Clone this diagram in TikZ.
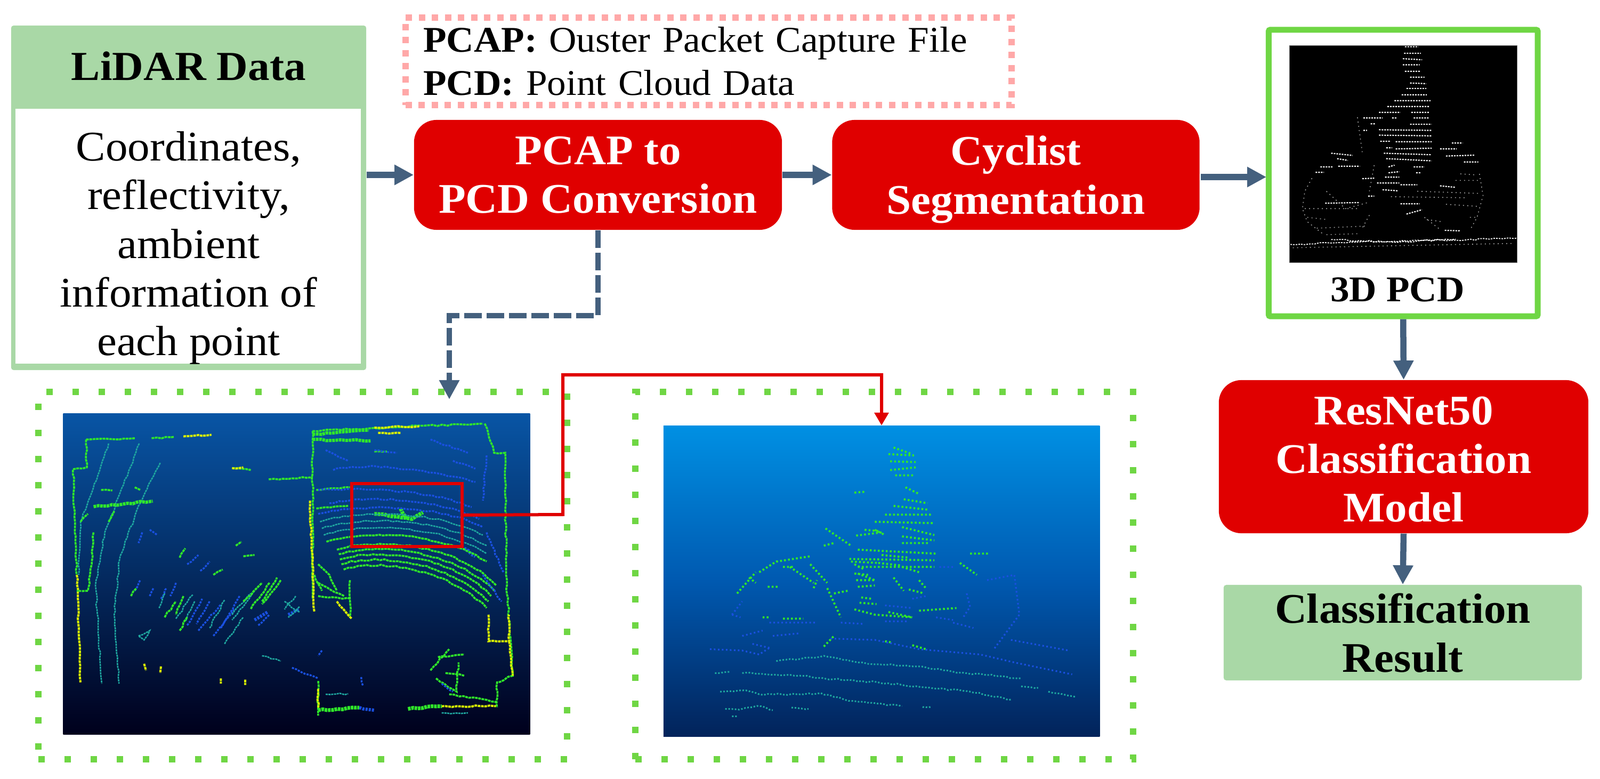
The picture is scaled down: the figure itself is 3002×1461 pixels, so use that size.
\documentclass[tikz,border=0pt]{standalone}
\usepackage{fontspec}
\setmainfont[FakeStretch=1.05]{Liberation Serif}
\usetikzlibrary{arrows.meta,decorations.pathmorphing}
\begin{document}
\begin{tikzpicture}[
  x=0.01cm, y=-0.01cm,
  mainfont/.style={font=\fontsize{22.5}{26}\selectfont},
  redbox/.style={
    fill=Cred, rounded corners=0.42cm, text=white, mainfont, align=center,
    inner sep=0pt, text depth=0pt
  },
  greenbox/.style={fill=Cgreen, rounded corners=0.05cm, inner sep=0pt},
  dotframe/.style={
    draw=Cdot, line width=0.12cm, dash pattern=on 0.12cm off 0.37cm, inner sep=0pt
  },
  flow/.style={
    draw=Cflow, line width=0.115cm, -{Triangle[length=3.6mm,width=3.6mm]}
  },
  noisy/.style={decorate, decoration={random steps, segment length=0.09cm, amplitude=0.016cm}},
  ptG/.style={noisy, draw=CptG, line width=0.036cm, dash pattern=on 0.05cm off 0.012cm},
  ptY/.style={noisy, draw=CptY, line width=0.04cm, dash pattern=on 0.05cm off 0.012cm},
  ptB/.style={noisy, draw=CptB, line width=0.034cm, dash pattern=on 0.04cm off 0.02cm},
  ptT/.style={noisy, draw=CptT, line width=0.026cm, dash pattern=on 0.04cm off 0.012cm},
  dotG/.style={draw=CptG, line width=0.038cm, dash pattern=on 0.035cm off 0.04cm},
  dotB/.style={draw=CptB, line width=0.032cm, dash pattern=on 0.03cm off 0.045cm},
  dotT/.style={noisy, draw=CptT, line width=0.03cm, dash pattern=on 0.03cm off 0.03cm},
  dotW/.style={draw=white, line width=0.022cm, dash pattern=on 0.03cm off 0.02cm},
  dotK/.style={draw=black!40, line width=0.016cm, dash pattern=on 0.02cm off 0.06cm}
]
\definecolor{Cred}{HTML}{E00000}
\definecolor{Cgreen}{HTML}{A9D8A6}
\definecolor{Cdot}{HTML}{6FD644}
\definecolor{Cpink}{HTML}{FFA8A8}
\definecolor{Cflow}{HTML}{44607E}
\definecolor{CptG}{HTML}{30E82A}
\definecolor{CptY}{HTML}{D8F000}
\definecolor{CptB}{HTML}{1A50E0}
\definecolor{CptT}{HTML}{1FA8A0}
\definecolor{Cscenetop}{HTML}{0855A5}
\definecolor{Cscenebot}{HTML}{00001C}
\definecolor{Ccyctop}{HTML}{0090E3}
\definecolor{Ccycmid}{HTML}{0059B0}
\definecolor{Ccycbot}{HTML}{02235A}
\useasboundingbox (0,0) rectangle (3002,1461);
%% LIDAR BOX
\node[greenbox, minimum width=6.66cm, minimum height=6.46cm] (lidarbox) at (354,371) {};
\node[fill=white, inner sep=0pt, minimum width=6.48cm, minimum height=4.78cm] (lidarbody) at (353,443) {};
\node[font=\fontsize{22}{26}\selectfont\bfseries, anchor=base] (lidarhead) at (354,151) {LiDAR Data};
\node[mainfont, align=center, inner sep=0pt] (lidartext) at (354,465) {Coordinates,\\reflectivity,\\ambient\\information of\\each point};
%% LEGEND
\node[draw=Cpink, line width=0.12cm, dash pattern=on 0.12cm off 0.125cm, inner sep=0pt,
  minimum width=11.37cm, minimum height=1.64cm, text width=10.7cm, align=left,
  font=\fontsize{19.3}{23}\selectfont] (legend) at (1329.5,115)
  {\textbf{PCAP:} Ouster Packet Capture File\\\textbf{PCD:} Point Cloud Data};
%% PROCESSING BOXES
\node[redbox, font=\fontsize{22.5}{26}\selectfont\bfseries, minimum width=6.9cm, minimum height=2.06cm] (pcdconv) at (1122,328) {PCAP to\\PCD Conversion};
\node[redbox, font=\fontsize{22.5}{26}\selectfont\bfseries, minimum width=6.89cm, minimum height=2.06cm] (cyclistseg) at (1906,328) {Cyclist\\Segmentation};
\node[redbox, font=\fontsize{22.5}{26}\selectfont\bfseries, minimum width=6.93cm, minimum height=2.87cm] (resnet) at (2633.5,856.5) {\rule{0pt}{17.6pt}ResNet50\\Classification\\Model};
\node[greenbox, font=\fontsize{22.5}{26}\selectfont\bfseries, align=center, text depth=0pt, minimum width=6.72cm, minimum height=1.79cm] (result) at (2632,1186.5) {Classification\\Result};
%% 3D PCD PANEL
\node[draw=Cdot, line width=0.11cm, rounded corners=0.03cm, inner sep=0pt, minimum width=5.045cm, minimum height=5.37cm] (pcdpanel) at (2632.75,324.5) {};
\node[fill=black, draw=black!60, line width=0.01cm, inner sep=0pt, minimum width=4.26cm, minimum height=4.06cm] (pcdimg) at (2633,289) {};
\node[font=\fontsize{19.3}{23}\selectfont\bfseries, anchor=base] (pcdlabel) at (2622,566) {3D PCD};
\begin{scope}[shift={(2300,0)}, x=0.00448cm, y=-0.00408cm]
\draw[dotW] (748,215)--(805,215) (745,245)--(815,245) (740,270)--(820,275) (740,298)--(810,298)
  (748,328)--(815,328) (770,355)--(830,355) (770,382)--(838,385) (755,407)--(838,407)
  (735,436)--(840,436) (705,463)--(855,463) (675,490)--(850,490) (640,517)--(730,517)
  (775,517)--(850,517) (575,543)--(655,543) (695,543)--(715,543) (785,543)--(850,543)
  (605,570)--(625,570) (770,572)--(860,572) (575,600)--(590,600) (640,597)--(860,600)
  (640,622)--(860,625) (645,650)--(690,650) (710,652)--(860,652) (670,680)--(695,680)
  (710,685)--(860,682) (895,685)--(965,685) (945,658)--(990,658) (440,705)--(530,715)
  (660,705)--(860,712) (920,718)--(1040,714) (465,730)--(510,738) (670,730)--(860,740)
  (995,745)--(1055,745) (395,768)--(445,768) (470,765)--(560,765) (680,768)--(705,760)
  (785,768)--(830,768) (375,793)--(410,793) (680,795)--(725,790) (795,795)--(815,795)
  (570,822)--(620,820) (665,815)--(725,815) (632,842)--(725,842) (730,850)--(800,850)
  (895,855)--(960,862) (655,873)--(720,878) (595,902)--(620,902) (415,935)--(560,932)
  (730,938)--(810,938) (755,985)--(820,965) (915,1060)--(980,1062);
\draw[dotW, noisy, line width=0.018cm] (270,1125)--(440,1118)--(700,1110)--(960,1105)--(1220,1095) (440,1102)--(700,1115)--(960,1100);
\draw[dotK] (360,820)--(330,880)--(320,960)--(340,1020)--(410,1080) (1060,800)--(1075,900)--(1050,1000)--(1020,1060)
  (600,990)--(570,1050) (690,905)--(1010,910) (420,880)--(500,960)--(600,930) (830,1000)--(900,1060)
  (330,960)--(560,960) (340,1000)--(420,1010) (380,1050)--(590,1040) (420,1080)--(560,1075) (800,880)--(1060,890)
  (920,940)--(1060,950) (840,1010)--(900,1020) (980,800)--(1050,805) (960,830)--(1060,830) (1020,1000)--(1050,1000)
  (550,540)--(570,700) (620,760)--(600,880) (280,1140)--(1200,1120);
\end{scope}
%% SCENE PANEL
\node[dotframe, minimum width=9.92cm, minimum height=6.89cm] (sceneframe) at (568,1079.5) {};
\node[inner sep=0pt, minimum width=8.75cm, minimum height=6.01cm, top color=Cscenetop, bottom color=Cscenebot] (sceneimg) at (556.5,1076.5) {};
\begin{scope}[shift={(0,680)}, x=0.00702cm, y=-0.00498cm]
\draw[ptG] (230,290)--(360,285) (405,285)--(465,280) (230,290)--(232,395)--(195,402)--(205,800);
\draw[ptY] (490,278)--(565,272) (205,800)--(215,1205);
\draw[ptT] (290,305)--(250,470)--(215,600)--(210,800) (372,305)--(330,460)--(280,640)--(255,840)--(272,1210)
  (428,378)--(370,540)--(320,740)--(305,950)--(318,1210);
\draw[ptG, line width=0.06cm] (250,543)--(408,522) (835,290)--(990,295) (835,270)--(985,255);
\draw[ptG] (620,398)--(670,405) (718,440)--(835,432) (835,258)--(985,248)--(1130,238)--(1290,230)
  (835,258)--(835,890) (1295,230)--(1320,340)--(1350,340)--(1352,800)--(1370,1180)--(1328,1205)--(1328,1300)
  (250,640)--(245,760)--(235,860)--(205,860) (215,600)--(235,570) (290,600)--(305,560)
  (845,480)--(935,470) (845,550)--(930,540) (850,880)--(935,890) (935,820)--(935,960) (850,830)--(920,880)
  (850,1200)--(850,1330) (1150,1160)--(1200,1080) (1165,1190)--(1220,1240)--(1225,1130) (1200,1250)--(1330,1280)
  (850,760)--(880,800)--(900,860) (840,800)--(860,860) (1000,335)--(1035,335) (1170,1110)--(1240,1100) (1190,1170)--(1240,1180);
\draw[ptY] (828,520)--(840,940) (1000,245)--(1120,240) (1360,1050)--(1370,1180) (900,900)--(940,965) (1010,265)--(1070,265)
  (1305,950)--(1305,1050)--(1360,1050)--(1360,950) (1180,1295)--(1325,1295) (590,1190)--(590,1210) (655,1195)--(655,1215)
  (385,1135)--(390,1160) (430,1145)--(428,1170) (620,398)--(650,395) (850,1230)--(850,1300);
\draw[ptG, line width=0.07cm] (850,1310)--(960,1300) (1090,1305)--(1180,1295) (1000,570)--(1060,580)--(1100,590)--(1130,565) (1070,550)--(1085,590);
\draw[ptB, line width=0.06cm] (960,1300)--(1000,1310) (680,970)--(715,940) (770,950)--(800,930) (1240,700)--(1270,730);
\draw[ptG] (918,780) .. controls (1000,745) and (1180,760) .. (1300,925);
\draw[ptG] (912,760) .. controls (1000,722) and (1190,740) .. (1305,900);
\draw[ptG] (908,742) .. controls (1000,700) and (1200,720) .. (1312,880);
\draw[ptG] (905,722) .. controls (1000,680) and (1210,700) .. (1320,860);
\draw[ptG] (900,705) .. controls (1000,660) and (1220,680) .. (1325,840);
\draw[ptG] (872,675) .. controls (980,630) and (1180,640) .. (1300,750);
\draw[ptT] (865,650) .. controls (980,600) and (1180,615) .. (1300,720);
\draw[ptT] (860,625) .. controls (980,575) and (1180,590) .. (1300,690);
\draw[ptT] (855,600) .. controls (980,550) and (1180,565) .. (1290,650);
\draw[ptB] (850,570) .. controls (980,530) and (1180,540) .. (1290,620);
\draw[ptB] (880,530) .. controls (980,500) and (1170,510) .. (1280,590);
\draw[ptB] (850,480) .. controls (980,470) and (1150,480) .. (1260,545);
\draw[ptB] (890,405) .. controls (970,375) and (1130,400) .. (1270,450);
\draw[ptB] (1300,350)--(1290,520) (1300,640)--(1345,790) (1150,290)--(1250,340) (870,330)--(930,370) (1290,800)--(1340,900)
  (1000,330)--(1060,340) (1210,370)--(1270,400) (360,860)--(375,820) (400,880)--(410,850) (430,890)--(445,850)
  (500,760)--(530,725) (535,785)--(560,750) (500,990)--(540,890) (530,1010)--(590,910) (570,1030)--(625,930)
  (380,640)--(370,680) (400,630)--(420,650) (860,1085)--(850,1105) (965,1185)--(970,1220) (780,1150)--(850,1190)
  (1180,1210)--(1210,1240) (470,830)--(455,880) (560,900)--(525,985) (640,880)--(590,1000) (690,990)--(720,950);
\draw[ptT] (370,1030)--(400,1010)--(385,1045)--(370,1030) (470,965)--(515,875) (600,1060)--(650,960) (620,950)--(670,870)
  (870,1250)--(930,1248) (1180,1320)--(1250,1320) (700,1105)--(750,1125) (760,900)--(800,940)
  (440,870)--(425,925) (520,900)--(495,975) (600,895)--(560,1000) (680,860)--(620,970) (790,880)--(760,930) (800,920)--(770,960);
\draw[ptG] (480,735)--(495,700) (570,800)--(595,780) (630,690)--(645,675) (650,730)--(680,725) (650,900)--(700,830)
  (700,900)--(740,810) (480,1010)--(500,960) (350,880)--(365,850) (440,960)--(470,900) (270,480)--(300,482) (360,470)--(375,480)
  (490,880)--(470,950) (720,830)--(670,930) (750,820)--(700,910);
\end{scope}
\node[draw=Cred, line width=0.055cm, inner sep=0pt, minimum width=2.07cm, minimum height=1.18cm] (roi) at (763.5,966) {};
%% CYCLIST PANEL
\node[dotframe, minimum width=9.34cm, minimum height=6.89cm] (cyclistframe) at (1659,1079.5) {};
\node[inner sep=0pt, minimum width=8.18cm, minimum height=5.825cm, top color=Ccyctop, bottom color=Ccycbot, middle color=Ccycmid] (cyclistimg) at (1654,1090) {};
\begin{scope}[shift={(1150,680)}, x=0.00638cm, y=-0.00498cm]
\draw[dotG] (825,320)--(880,345) (810,345)--(885,350) (815,372)--(890,375) (815,405)--(890,395) (830,425)--(885,425)
  (860,470)--(900,495) (855,515)--(925,530) (825,540)--(930,555) (800,573)--(935,573) (770,600)--(945,605)
  (715,652)--(790,640) (850,655)--(945,670) (850,680)--(930,680) (720,705)--(950,720) (695,740)--(945,745)
  (720,770)--(945,770) (710,795)--(750,800) (715,820)--(770,820) (720,845)--(770,840) (730,885)--(760,890)
  (725,905)--(775,910) (825,810)--(855,860) (900,820)--(920,850) (870,855)--(915,870)
  (365,870)--(420,790) (430,790)--(480,750)--(580,730) (625,625)--(700,690) (620,690)--(650,680) (520,770)--(590,830)
  (580,760)--(630,830) (630,850)--(670,960) (710,930)--(770,950)--(880,960) (900,935)--(1010,925) (1020,755)--(1070,800)
  (1050,720)--(1105,720) (500,965)--(560,965) (440,960)--(460,960) (710,490)--(740,487)
  (850,620)--(945,650) (770,630)--(800,650) (740,630)--(780,635) (700,750)--(780,755) (790,725)--(870,735) (780,755)--(850,765)
  (850,770)--(900,790) (710,760)--(740,780) (720,795)--(770,820) (400,810)--(420,830) (500,770)--(530,770) (455,845)--(490,845)
  (590,850)--(600,820) (650,870)--(690,860) (810,940)--(880,960) (620,1070)--(650,1030) (800,1050)--(820,1055) (880,1065)--(920,1080);
\draw[dotB] (960,770)--(1000,770) (350,950)--(380,900) (380,1030)--(440,1010) (470,1030)--(550,1020) (410,1060)--(460,1075)
  (1100,820)--(1180,800)--(1195,950)--(1120,1080) (1000,980)--(1060,1000) (800,915)--(880,925) (950,960)--(1000,970)
  (640,1040)--(770,1045)--(900,1080)--(1080,1100)--(1180,1130)--(1350,1175) (1170,1045)--(1340,1085)
  (285,1080)--(380,1085)--(430,1100)--(460,1075) (670,980)--(740,985) (800,975)--(870,975) (460,980)--(600,980) (350,950)--(375,960)
  (1040,870)--(1050,920)--(1030,960) (880,890)--(920,880);
\draw[dotT] (480,1125)--(620,1105)--(720,1130)--(900,1145)--(1000,1165)--(1200,1190) (300,1170)--(345,1165)
  (380,1170)--(450,1175)--(570,1180)--(620,1190)--(780,1205)--(930,1225)--(1050,1240)--(1170,1270) (1200,1220)--(1250,1225)
  (315,1240)--(390,1235)--(430,1250)--(560,1250)--(610,1245)--(680,1270)--(850,1295) (1280,1240)--(1360,1260)
  (330,1305)--(380,1305)--(435,1295)--(470,1310) (525,1300)--(575,1305) (910,1298)--(935,1298) (350,1333)--(365,1333);
\end{scope}
%% CONNECTORS
\coordinate (segflow) at (2253,332);
\coordinate (panelflow) at (2376,332);
\coordinate (dashturn) at (843,592);
\coordinate (scenetip) at (843,749);
\coordinate (roiturnA) at (1056,965);
\coordinate (roiturnB) at (1056,703);
\coordinate (roiturnC) at (1654,703);
\draw[flow] (lidarbox.east |- pcdconv.west) -- (pcdconv.west);
\draw[flow] (pcdconv.east) -- (cyclistseg.west);
\draw[flow] (segflow) -- (panelflow);
\draw[flow] (pcdpanel.south) -- (resnet.north);
\draw[flow] (resnet.south) -- (result.north);
\draw[flow, line width=0.1cm, dash pattern=on 0.33cm off 0.09cm] (pcdconv.south) |- (dashturn) -- (scenetip);
\draw[draw=Cred, line width=0.06cm, -{Triangle[length=2.4mm,width=2.6mm]}] (roi.east) -- (roiturnA) -- (roiturnB) -- (roiturnC) -- (cyclistimg.north);
\end{tikzpicture}
\end{document}
